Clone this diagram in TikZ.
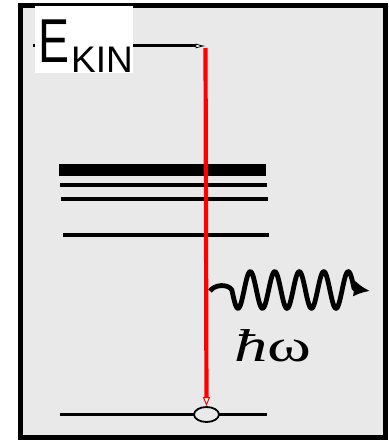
\documentclass[tikz,border=0pt]{standalone}
\usepackage{fontspec}
\usepackage{graphicx}
\usetikzlibrary{arrows.meta, shapes.geometric}
\newfontfamily\labelfont{Liberation Sans}
\newfontfamily\symfont{Liberation Serif}
\definecolor{panel}{gray}{0.914}

\begin{document}
\begin{tikzpicture}[x=1pt, y=-1pt, >=Latex,
    level/.style={line width=3.2pt},
    beam/.style={red, line width=4.2pt}]
  \useasboundingbox (0,0) rectangle (388,441);
  % frame
  \draw[line width=5pt, fill=panel] (20.8,5.8) rectangle (385,437.5);
  % energy levels (valence band + core levels)
  \draw[line width=12pt] (59,170) -- (266,170);
  \foreach \y/\xa/\xb in {185/60/267, 199/61/268, 235/63/269, 414.5/60/267} {
    \draw[level] (\xa,\y) -- (\xb,\y);
  }
  % core hole
  \node[ellipse, draw, line width=1.8pt, fill=panel, minimum width=25pt, minimum height=15pt, inner sep=0pt] (hole) at (206.5,414.5) {};
  % kinetic energy arrow
  \coordinate (lead) at (33,46);
  \coordinate (ktop) at (205.5,46);
  \draw[line width=3pt, -{Latex[open, fill=white, length=10pt, width=5pt, line width=0.8pt]}] (lead) -- (ktop);
  % electron falling into the hole
  \draw[beam, shorten <=2pt, -{Triangle[open, fill=white, length=9pt, width=7pt, line width=1pt]}] (ktop) -- (hole.north);
  % emitted photon
  \coordinate (wstart) at (210,291);
  \coordinate (wend) at (370,291);
  \draw[line width=4.8pt, line join=round, -{Latex[length=16pt, width=16pt]}] (wstart) .. controls (214,285) and (227,283) .. (231.9,290)
    -- plot[domain=231.9:354.1, samples=120] (\x, {290+18.5*cos(14.694*(\x-238))}) -- (wend);
  \node[anchor=base west, inner sep=0pt] (hw) at (234,361) {\scalebox{1.45}[1]{\fontsize{46}{46}\symfont\selectfont\itshape ħ\upshape ω}};
  % label
  \node[anchor=base west, inner sep=0pt, fill=white] (ekin) at (35,63) {\labelfont\rule{0pt}{57pt}\hspace{3pt}\fontsize{62}{62}\selectfont\scalebox{0.75}[1]{E}\hspace{2pt}\raisebox{-10pt}{\fontsize{37}{37}\selectfont KIN}\hspace{4pt}};
\end{tikzpicture}
\end{document}
